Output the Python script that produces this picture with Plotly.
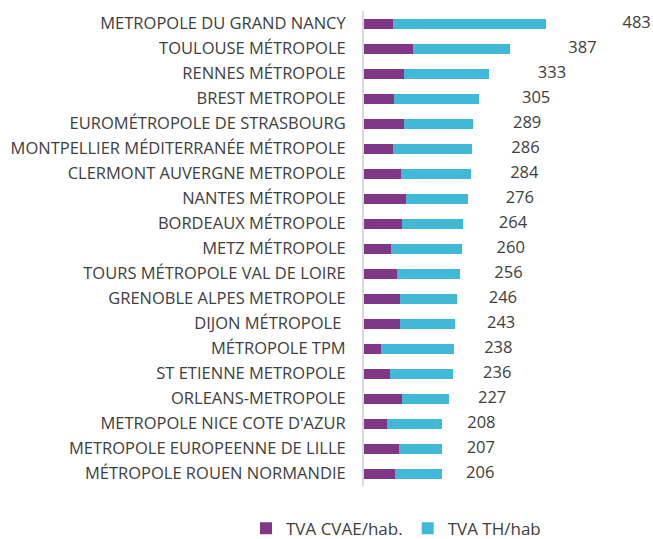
import plotly.graph_objects as go

categories = [
    "METROPOLE DU GRAND NANCY", "TOULOUSE MÉTROPOLE", "RENNES MÉTROPOLE",
    "BREST METROPOLE", "EUROMÉTROPOLE DE STRASBOURG",
    "MONTPELLIER MÉDITERRANÉE MÉTROPOLE", "CLERMONT AUVERGNE METROPOLE",
    "NANTES MÉTROPOLE", "BORDEAUX MÉTROPOLE", "METZ MÉTROPOLE",
    "TOURS MÉTROPOLE VAL DE LOIRE", "GRENOBLE ALPES METROPOLE",
    "DIJON MÉTROPOLE ", "MÉTROPOLE TPM", "ST ETIENNE METROPOLE",
    "ORLEANS-METROPOLE", "METROPOLE NICE COTE D'AZUR",
    "METROPOLE EUROPEENNE DE LILLE", "MÉTROPOLE ROUEN NORMANDIE",
]
cvae = [76, 129, 105, 79, 105, 77, 97, 111, 100, 71, 87, 95, 95, 44, 68, 100, 60, 92, 82]
th = [407, 258, 228, 226, 184, 209, 187, 165, 164, 189, 169, 151, 148, 194, 168, 127, 148, 115, 124]
totals = [483, 387, 333, 305, 289, 286, 284, 276, 264, 260, 256, 246, 243, 238, 236, 227, 208, 207, 206]

PURPLE = "#7F3786"
CYAN = "#41B8D5"
TXT = "#404040"
FONT = "Open Sans"

fig = go.Figure()
fig.add_trace(go.Bar(y=categories, x=cvae, orientation="h", name="TVA CVAE/hab.",
                     marker=dict(color=PURPLE, line=dict(width=0))))
fig.add_trace(go.Bar(y=categories, x=th, orientation="h", name="TVA TH/hab",
                     marker=dict(color=CYAN, line=dict(width=0))))
# total labels, centred as an invisible third stacked segment would be
fig.add_trace(go.Scatter(y=categories, x=[t * 1.5 for t in totals], mode="text",
                         text=[str(t) for t in totals], textposition="middle center",
                         textfont=dict(family=FONT, size=16.5, color=TXT),
                         showlegend=False, cliponaxis=False, hoverinfo="skip"))

fig.update_layout(
    width=653, height=539,
    barmode="stack", bargap=0.6,
    paper_bgcolor="white", plot_bgcolor="white",
    margin=dict(l=364, r=3, t=11, b=53, autoexpand=False),
    font=dict(family=FONT, color=TXT, size=16),
    legend=dict(orientation="h", x=-0.4126, xanchor="left", xref="paper",
                y=-0.052, yanchor="top", font=dict(size=17, color=TXT),
                traceorder="normal", itemwidth=30),
    showlegend=True,
)
fig.update_xaxes(range=[0, 760], visible=False, showgrid=False, zeroline=False,
                 automargin=False)
fig.update_yaxes(range=[len(categories) - 0.5, -0.5], autorange=False,
                 showline=True, linecolor="#D9D9D9", linewidth=2,
                 ticks="", ticklabelstandoff=13, tickfont=dict(size=16.5, color=TXT),
                 showgrid=False, automargin=False)

fig.write_html("out.html", config={"displayModeBar": False},
               post_script="document.body.style.margin='0';document.body.style.overflow='hidden';")
